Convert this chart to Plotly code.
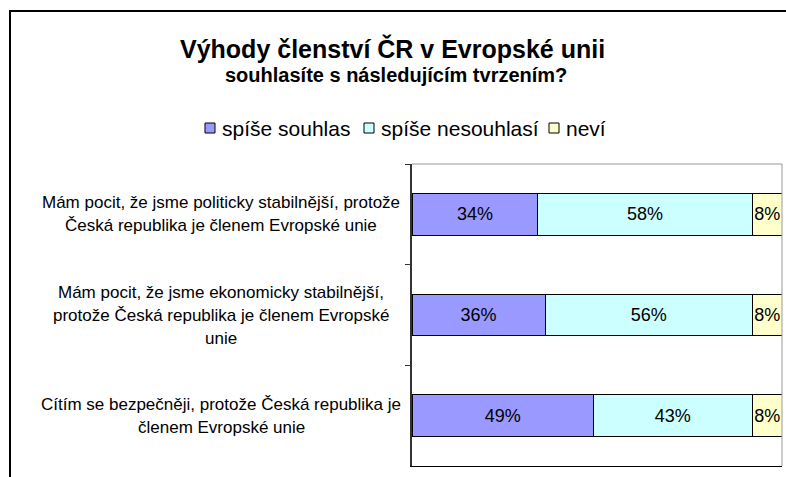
import plotly.graph_objects as go

categories = [
    "Mám pocit, že jsme politicky stabilnější, protože Česká republika je členem Evropské unie",
    "Mám pocit, že jsme ekonomicky stabilnější, protože Česká republika je členem Evropské unie",
    "Cítím se bezpečněji, protože Česká republika je členem Evropské unie",
]
label_lines = [
    ["Mám pocit, že jsme politicky stabilnější, protože", "Česká republika je členem Evropské unie"],
    ["Mám pocit, že jsme ekonomicky stabilnější,", "protože Česká republika je členem Evropské", "unie"],
    ["Cítím se bezpečněji, protože Česká republika je", "členem Evropské unie"],
]
series_names = ["spíše souhlas", "spíše nesouhlasí", "neví"]
souhlas = [34, 36, 49]
nesouhlasi = [58, 56, 43]
nevi = [8, 8, 8]
colors = ["#9999FF", "#CCFFFF", "#FFFFCC"]

FONT = "Liberation Sans, Arial, sans-serif"

fig = go.Figure()
for name, vals, col in zip(series_names, [souhlas, nesouhlasi, nevi], colors):
    fig.add_trace(go.Bar(
        y=categories, x=vals, name=name, orientation="h",
        marker=dict(color=col, line=dict(color="black", width=1)),
        text=[f"{v}%" for v in vals], textposition="inside",
        insidetextanchor="middle", textangle=0,
        textfont=dict(family=FONT, size=18, color="black"),
        constraintext="none", cliponaxis=False, showlegend=False,
    ))

L, R, T, B = 412, 4, 164, 11
W, H = 786, 477
pw, ph = W - L - R, H - T - B

def px_x(p):
    return (p - L) / pw

def px_y(p):
    return (H - B - p) / ph

fig.update_layout(
    width=W, height=H,
    margin=dict(l=L, r=R, t=T, b=B),
    barmode="stack", bargap=0.585,
    paper_bgcolor="white", plot_bgcolor="white",
    font=dict(family=FONT, color="black"),
    showlegend=False,
    xaxis=dict(range=[0, 100], showticklabels=False, showgrid=False, zeroline=False,
               showline=True, linecolor="black", linewidth=1, ticks="", mirror=False, fixedrange=True),
    yaxis=dict(categoryorder="array", categoryarray=categories, autorange="reversed",
               showticklabels=False, showgrid=False, zeroline=False,
               showline=True, linecolor="#333333", linewidth=2,
               ticks="outside", ticklen=5, tickcolor="#333333", tickson="boundaries"),
)

# plot-area border (light gray, top and right)
fig.add_shape(type="line", xref="paper", yref="paper", x0=0, x1=1, y0=1, y1=1,
              line=dict(color="#999999", width=1))
fig.add_shape(type="line", xref="paper", yref="paper", x0=1, x1=1, y0=0, y1=1,
              line=dict(color="#999999", width=1))
# outer chart border
fig.add_shape(type="line", xref="paper", yref="paper",
              x0=px_x(10), x1=px_x(800), y0=px_y(11), y1=px_y(11),
              line=dict(color="black", width=2))
fig.add_shape(type="line", xref="paper", yref="paper",
              x0=px_x(10), x1=px_x(10), y0=px_y(10), y1=px_y(490),
              line=dict(color="black", width=2))

# title
fig.add_annotation(text="<b>Výhody členství ČR v Evropské unii</b>", xref="paper", yref="paper",
                   x=px_x(392), y=px_y(48), xanchor="center", yanchor="middle", showarrow=False,
                   font=dict(size=25, family=FONT))
fig.add_annotation(text="<b>souhlasíte s následujícím tvrzením?</b>", xref="paper", yref="paper",
                   x=px_x(396), y=px_y(75), xanchor="center", yanchor="middle", showarrow=False,
                   font=dict(size=20, family=FONT))

# custom legend (compact, like the original)
legend_sym_x = [210, 369, 554]
legend_y = 128
for name, col, sx in zip(series_names, colors, legend_sym_x):
    fig.add_shape(type="rect", xref="paper", yref="paper",
                  x0=px_x(sx - 5), x1=px_x(sx + 5), y0=px_y(legend_y + 5), y1=px_y(legend_y - 5),
                  line=dict(color="black", width=1), fillcolor=col)
    fig.add_annotation(text=name, xref="paper", yref="paper", x=px_x(sx + 10), y=px_y(legend_y),
                       xanchor="left", yanchor="middle", showarrow=False,
                       font=dict(size=21, family=FONT))

# category labels, centred multi-line
pitch = 23
for cat, lines in zip(categories, label_lines):
    n = len(lines)
    for i, line in enumerate(lines):
        off = ((n - 1) / 2 - i) * pitch
        fig.add_annotation(text=line, xref="paper", yref="y", x=px_x(221), y=cat,
                           yshift=off, xanchor="center", yanchor="middle", showarrow=False,
                           font=dict(size=17, family=FONT))

fig.write_html("out.html", config={"displayModeBar": False},
               post_script="document.body.style.margin='0px';")
